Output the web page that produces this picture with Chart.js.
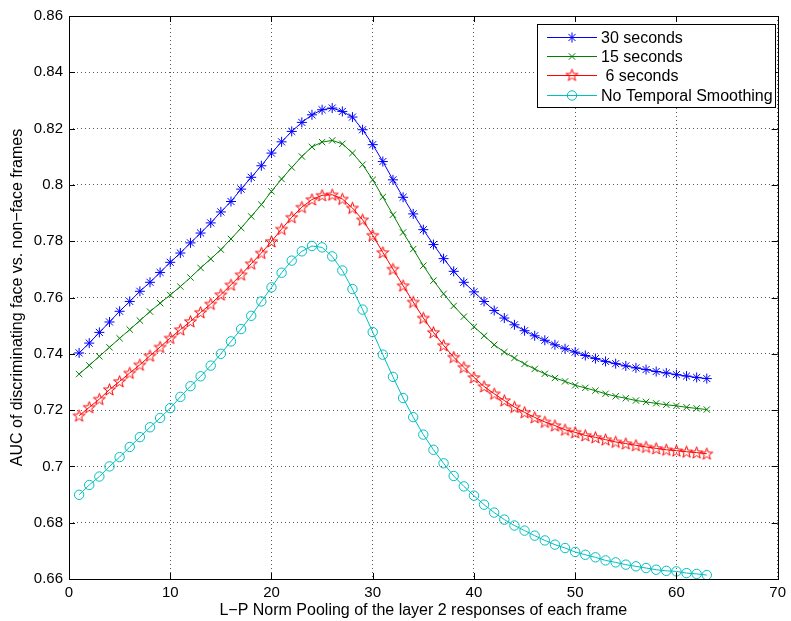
<!DOCTYPE html>
<html>
<head>
<meta charset="utf-8">
<title>AUC vs L-P norm pooling</title>
<script src="https://cdn.jsdelivr.net/npm/chart.js@4.4.1/dist/chart.umd.min.js"></script>
<style>
  html, body { margin: 0; padding: 0; background: #fff; }
  #wrap { width: 791px; height: 621px; }
</style>
</head>
<body>
<div id="wrap"><canvas id="aucChart" width="791" height="621"></canvas></div>
<script>
// pooling parameter P (x axis)
const poolSizes = [1, 2, 3, 4, 5, 6, 7, 8, 9, 10, 11, 12, 13, 14, 15, 16, 17, 18, 19, 20,
  21, 22, 23, 24, 25, 26, 27, 28, 29, 30, 31, 32, 33, 34, 35, 36, 37, 38, 39, 40,
  41, 42, 43, 44, 45, 46, 47, 48, 49, 50, 51, 52, 53, 54, 55, 56, 57, 58, 59, 60,
  61, 62, 63];

// AUC values
const auc30s = [0.7403, 0.7438, 0.7476, 0.7513, 0.7551, 0.7586, 0.7622, 0.7654, 0.7689, 0.7725,
  0.7758, 0.7794, 0.7829, 0.7865, 0.7904, 0.7941, 0.7985, 0.8027, 0.8068, 0.8113,
  0.8153, 0.8190, 0.8222, 0.8249, 0.8267, 0.8273, 0.8261, 0.8241, 0.8196, 0.8143,
  0.8083, 0.8018, 0.7956, 0.7897, 0.7841, 0.7788, 0.7738, 0.7693, 0.7654, 0.7620,
  0.7586, 0.7554, 0.7527, 0.7503, 0.7482, 0.7464, 0.7448, 0.7432, 0.7418, 0.7406,
  0.7394, 0.7383, 0.7373, 0.7365, 0.7357, 0.7350, 0.7344, 0.7337, 0.7332, 0.7326,
  0.7321, 0.7316, 0.7312];

const auc15s = [0.7328, 0.7359, 0.7391, 0.7423, 0.7455, 0.7486, 0.7518, 0.7550, 0.7580, 0.7609,
  0.7639, 0.7671, 0.7705, 0.7737, 0.7770, 0.7808, 0.7847, 0.7888, 0.7930, 0.7977,
  0.8021, 0.8062, 0.8101, 0.8135, 0.8152, 0.8158, 0.8146, 0.8113, 0.8072, 0.8018,
  0.7957, 0.7894, 0.7831, 0.7772, 0.7713, 0.7660, 0.7613, 0.7570, 0.7532, 0.7496,
  0.7464, 0.7432, 0.7406, 0.7385, 0.7364, 0.7346, 0.7329, 0.7314, 0.7302, 0.7288,
  0.7279, 0.7269, 0.7258, 0.7249, 0.7242, 0.7234, 0.7229, 0.7224, 0.7219, 0.7215,
  0.7210, 0.7206, 0.7202];

const auc6s = [0.7180, 0.7210, 0.7239, 0.7273, 0.7302, 0.7332, 0.7361, 0.7393, 0.7424, 0.7456,
  0.7486, 0.7515, 0.7547, 0.7577, 0.7610, 0.7645, 0.7681, 0.7720, 0.7758, 0.7799,
  0.7843, 0.7885, 0.7921, 0.7948, 0.7963, 0.7965, 0.7950, 0.7918, 0.7876, 0.7821,
  0.7760, 0.7701, 0.7642, 0.7584, 0.7527, 0.7476, 0.7430, 0.7388, 0.7352, 0.7316,
  0.7284, 0.7258, 0.7234, 0.7211, 0.7192, 0.7174, 0.7158, 0.7145, 0.7130, 0.7121,
  0.7110, 0.7103, 0.7095, 0.7087, 0.7081, 0.7075, 0.7069, 0.7064, 0.7059, 0.7056,
  0.7052, 0.7049, 0.7045];

const aucNoSmooth = [0.6899, 0.6934, 0.6964, 0.7000, 0.7033, 0.7069, 0.7104, 0.7139, 0.7172, 0.7207,
  0.7247, 0.7285, 0.7320, 0.7358, 0.7400, 0.7444, 0.7488, 0.7535, 0.7586, 0.7636,
  0.7688, 0.7731, 0.7764, 0.7783, 0.7778, 0.7746, 0.7696, 0.7630, 0.7557, 0.7477,
  0.7397, 0.7318, 0.7243, 0.7175, 0.7113, 0.7059, 0.7011, 0.6966, 0.6929, 0.6896,
  0.6864, 0.6836, 0.6811, 0.6790, 0.6772, 0.6754, 0.6737, 0.6722, 0.6710, 0.6696,
  0.6686, 0.6677, 0.6666, 0.6659, 0.6651, 0.6645, 0.6639, 0.6633, 0.6629, 0.6627,
  0.6621, 0.6618, 0.6614];

const seriesLabels = ['30 seconds', '15 seconds', ' 6 seconds', 'No Temporal Smoothing'];
const xTicks = [0, 10, 20, 30, 40, 50, 60, 70];
const yTicks = [0.66, 0.68, 0.70, 0.72, 0.74, 0.76, 0.78, 0.80, 0.82, 0.84, 0.86];

const FONT = 'Liberation Sans, Arial, Helvetica, sans-serif';

// matlab style pentagram marker, used as a point image
function pentagramPath(ctx, cx, cy, r) {
  ctx.beginPath();
  for (let i = 0; i < 10; i++) {
    const rr = i % 2 === 0 ? r : r * 0.4;
    const a = -Math.PI / 2 + i * Math.PI / 5;
    const px = cx + rr * Math.cos(a), py = cy + rr * Math.sin(a);
    if (i === 0) ctx.moveTo(px, py); else ctx.lineTo(px, py);
  }
  ctx.closePath();
}
const starImg = document.createElement('canvas');
starImg.width = 15; starImg.height = 15;
(function () {
  const c = starImg.getContext('2d');
  c.strokeStyle = '#ff0000';
  c.lineWidth = 1;
  pentagramPath(c, 7.5, 8, 6.3);
  c.stroke();
})();

function toPoints(ys) {
  return poolSizes.map((x, i) => ({ x: x, y: ys[i] }));
}

function series(label, ys, color, style, radius) {
  return {
    label: label,
    data: toPoints(ys),
    borderColor: color,
    backgroundColor: 'rgba(0,0,0,0)',
    borderWidth: 1,
    pointStyle: style,
    pointRadius: radius,
    pointBorderColor: color,
    pointBackgroundColor: 'rgba(0,0,0,0)',
    pointBorderWidth: 1,
    tension: 0
  };
}

// box, inward ticks and the legend, drawn like matlab does
const matlabFrame = {
  id: 'matlabFrame',
  afterDatasetsDraw(chart) {
    const { ctx, chartArea: a, scales } = chart;
    ctx.save();
    ctx.strokeStyle = '#000';
    ctx.lineWidth = 1;
    ctx.strokeRect(Math.round(a.left) + 0.5, Math.round(a.top) + 0.5,
      Math.round(a.right - a.left), Math.round(a.bottom - a.top));
    ctx.beginPath();
    xTicks.forEach(v => {
      const px = Math.round(scales.x.getPixelForValue(v)) + 0.5;
      ctx.moveTo(px, a.bottom); ctx.lineTo(px, a.bottom - 6);
      ctx.moveTo(px, a.top); ctx.lineTo(px, a.top + 6);
    });
    yTicks.forEach(v => {
      const py = Math.round(scales.y.getPixelForValue(v)) + 0.5;
      ctx.moveTo(a.left, py); ctx.lineTo(a.left + 6, py);
      ctx.moveTo(a.right, py); ctx.lineTo(a.right - 6, py);
    });
    ctx.stroke();

    // legend
    const box = { x: 537.5, y: 24.5, w: 238, h: 83 };
    ctx.fillStyle = '#fff';
    ctx.fillRect(box.x, box.y, box.w, box.h);
    ctx.strokeRect(box.x, box.y, box.w, box.h);
    const rows = [37, 56, 75, 95];
    ctx.font = '16px ' + FONT;
    ctx.textBaseline = 'middle';
    chart.data.datasets.forEach((ds, i) => {
      const y = rows[i] + 0.5;
      ctx.strokeStyle = ds.borderColor;
      ctx.fillStyle = 'rgba(0,0,0,0)';
      ctx.beginPath();
      ctx.moveTo(547, y); ctx.lineTo(597, y);
      ctx.stroke();
      const mx = 572;
      if (ds.pointStyle === starImg) {
        ctx.drawImage(starImg, mx - 7.5, y - 8);
      } else {
        Chart.helpers.drawPoint(ctx, {
          pointStyle: ds.pointStyle, radius: ds.pointRadius, rotation: 0, borderWidth: 1
        }, mx, y);
      }
      ctx.fillStyle = '#000';
      ctx.fillText(ds.label, 601, y + 1);
    });
    ctx.restore();
  }
};

const ctx = document.getElementById('aucChart').getContext('2d');
new Chart(ctx, {
  type: 'line',
  data: {
    datasets: [
      series(seriesLabels[0], auc30s, '#0000ff', 'star', 5),
      series(seriesLabels[1], auc15s, '#008000', 'crossRot', 4.5),
      series(seriesLabels[2], auc6s, '#ff0000', starImg, 6),
      series(seriesLabels[3], aucNoSmooth, '#00bfbf', 'circle', 4.7)
    ]
  },
  options: {
    responsive: false,
    animation: false,
    events: [],
    layout: { padding: { top: 16, right: 8, left: 0, bottom: 0 } },
    plugins: {
      legend: { display: false },
      tooltip: { enabled: false }
    },
    scales: {
      x: {
        type: 'linear',
        min: 0,
        max: 70,
        afterBuildTicks: s => { s.ticks = xTicks.map(v => ({ value: v })); },
        afterFit: s => { s.height = 42; },
        ticks: { color: '#000', font: { family: FONT, size: 15 }, padding: 5, maxRotation: 0 },
        grid: { color: 'rgba(0,0,0,0.65)', lineWidth: 1, drawTicks: false },
        border: { display: false, dash: [1, 3] },
        title: {
          display: true,
          text: 'L\u2212P Norm Pooling of the layer 2 responses of each frame',
          color: '#000',
          font: { family: FONT, size: 16 },
          padding: { top: 0, bottom: 1 }
        }
      },
      y: {
        min: 0.66,
        max: 0.86,
        afterBuildTicks: s => { s.ticks = yTicks.map(v => ({ value: v })); },
        afterFit: s => { s.width = 69; },
        ticks: {
          color: '#000',
          font: { family: FONT, size: 15 },
          padding: 6,
          callback: v => String(Number(v.toFixed(2)))
        },
        grid: { color: 'rgba(0,0,0,0.65)', lineWidth: 1, drawTicks: false },
        border: { display: false, dash: [1, 3] },
        title: {
          display: true,
          text: 'AUC of discriminating face vs. non\u2212face frames',
          color: '#000',
          font: { family: FONT, size: 16 },
          padding: { top: 8, bottom: 0 }
        }
      }
    }
  },
  plugins: [matlabFrame]
});
</script>
</body>
</html>
